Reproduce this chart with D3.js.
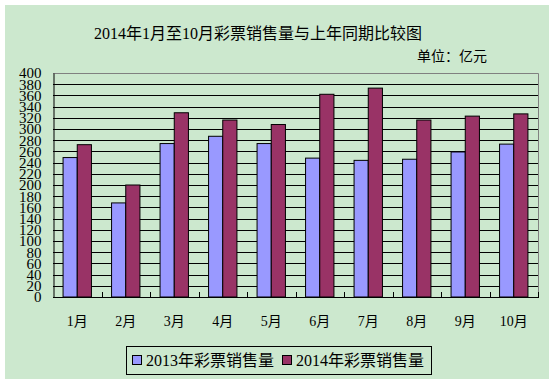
<!DOCTYPE html>
<html><head><meta charset="utf-8">
<script src="https://cdn.jsdelivr.net/npm/d3@7"></script>
<style>
body{margin:0;background:#fff;}
text{font-family:"Liberation Serif","Noto Sans CJK SC",serif;fill:#000;}
</style></head>
<body><svg id="c" width="554" height="384"></svg>
<script>
const categories = ["1月","2月","3月","4月","5月","6月","7月","8月","9月","10月"];
const seriesNames = ["2013年彩票销售量","2014年彩票销售量"];
const sales2013 = [249, 168, 274, 287, 274, 248, 244, 246, 259, 273];
const sales2014 = [272, 200, 329, 316, 308, 362, 373, 316, 323, 327];
const yTicks = d3.range(0, 401, 20);
const colors = ["#9999FF", "#993366"];

const svg = d3.select("#c");
svg.append("rect").attr("x",5).attr("y",5).attr("width",544).attr("height",374).attr("fill","#CCE8CE");

const L=53, R=538, T=73, B=297;
const x = d3.scaleBand().domain(categories).range([L,R]).paddingInner(0.415).paddingOuter(0.2075);
const step = x.step();
const xs = d3.scaleBand().domain([0,1]).range([0,x.bandwidth()]);
const y = d3.scaleLinear().domain([0,400]).range([B,T]);

// gridlines
svg.append("g").selectAll("line").data(yTicks.filter(v=>v>0&&v<400)).join("line")
  .attr("x1",L).attr("x2",R).attr("y1",d=>Math.round(y(d))+0.5).attr("y2",d=>Math.round(y(d))+0.5)
  .attr("stroke","#000").attr("stroke-width",1);
// plot border top/right
svg.append("path").attr("d",`M${L},${T+0.5}H${R+0.5}V${B}`).attr("fill","none").attr("stroke","#808080");

// bars
const data = categories.map((c,i)=>({c, vals:[sales2013[i], sales2014[i]]}));
const g = svg.append("g");
data.forEach(d=>{
  d.vals.forEach((v,k)=>{
    g.append("rect")
      .attr("x", x(d.c)+xs(k)).attr("y", y(v))
      .attr("width", xs.bandwidth()).attr("height", y(0)-y(v))
      .attr("fill", colors[k]).attr("stroke","#000").attr("stroke-width",1);
  });
});

// axes
const yAxis = d3.axisLeft(y).tickValues(yTicks).tickSize(0).tickPadding(12);
const ya = svg.append("g").attr("transform",`translate(${L+0.5},0)`).call(yAxis);
ya.select(".domain").attr("stroke","#000");
ya.selectAll("text").style("font-size","15px").style("font-family","Liberation Serif");

const xa = svg.append("g").attr("transform",`translate(0,${B+0.5})`)
  .call(d3.axisBottom(x).tickSize(0).tickPadding(19));
xa.select(".domain").remove();
xa.selectAll("text").style("font-size","14px");
svg.append("line").attr("x1",L).attr("x2",R+1).attr("y1",B+0.5).attr("y2",B+0.5).attr("stroke","#000");
// boundary ticks (inside)
svg.append("g").selectAll("line").data(d3.range(1,categories.length+1)).join("line")
  .attr("x1",i=>Math.round(L+i*step)+0.5).attr("x2",i=>Math.round(L+i*step)+0.5)
  .attr("y1",B).attr("y2",B-5).attr("stroke","#000");

// title
svg.append("text").attr("x",258).attr("y",39).attr("text-anchor","middle").style("font-size","16px")
  .text("2014年1月至10月彩票销售量与上年同期比较图");
svg.append("text").attr("x",487).attr("y",61).attr("text-anchor","end").style("font-size","14px")
  .text("单位：亿元");

// legend
const lg = svg.append("g");
lg.append("rect").attr("x",126.5).attr("y",346.5).attr("width",305).attr("height",28)
  .attr("fill","none").attr("stroke","#000");
const lx = [132, 282];
seriesNames.forEach((n,k)=>{
  lg.append("rect").attr("x",lx[k]+0.5).attr("y",355.5).attr("width",9).attr("height",9)
    .attr("fill",colors[k]).attr("stroke","#000");
  lg.append("text").attr("x",lx[k]+14).attr("y",366).style("font-size","16px").text(n);
});
</script></body></html>
